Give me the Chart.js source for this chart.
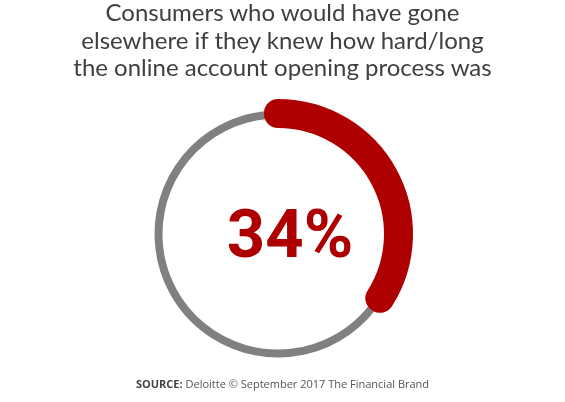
<!DOCTYPE html>
<html>
<head>
<meta charset="utf-8">
<script src="https://cdn.jsdelivr.net/npm/chart.js@4"></script>
<style>
  html, body { margin: 0; padding: 0; background: #fff; }
  #wrap { position: relative; width: 565px; height: 402px; overflow: hidden; }
  #title {
    position: absolute; left: 0; top: -2px; width: 565px;
    text-align: center; font-family: "Lato", sans-serif; font-size: 24px;
    line-height: 27.5px; color: #3f3f3f;
  }
  #source {
    position: absolute; left: 0; top: 376px; width: 565px;
    text-align: center; font-family: "Open Sans", sans-serif; font-size: 11px;
    color: #555;
  }
  #source b { color: #444; }
  canvas { position: absolute; left: 0; top: 0; }
</style>
</head>
<body>
<div id="wrap">
  <canvas id="myChart" width="565" height="402"></canvas>
  <div id="title">Consumers who would have gone<br>elsewhere if they knew how hard/long<br>the online account opening process was</div>
  <div id="source"><b>SOURCE:</b> Deloitte © September 2017 The Financial Brand</div>
</div>
<script>

const labels = ["Would have gone elsewhere", "Other"];
const share = [34, 66];

const red = "#ae0000";
const grey = "#808080";

// text in the middle of the ring, taken from the first value
const centerText = {
  id: "centerText",
  afterDatasetsDraw(chart) {
    const arc = chart.getDatasetMeta(0).data[0];
    const ctx = chart.ctx;
    ctx.save();
    ctx.fillStyle = red;
    ctx.font = "bold 67px Roboto";
    ctx.textAlign = "center";
    ctx.textBaseline = "alphabetic";
    ctx.fillText(share[0] + "%", arc.x + 12, arc.y + 23);
    ctx.restore();
  }
};

const ctx = document.getElementById("myChart");

new Chart(ctx, {
  type: "doughnut",
  data: {
    labels: labels,
    datasets: [{
      // red arc, on top
      data: share,
      backgroundColor: [red, "rgba(0,0,0,0)"],
      borderColor: [red, "rgba(0,0,0,0)"],
      borderWidth: [28, 0],
      borderJoinStyle: "round",
      order: 0
    }, {
      // grey track
      data: share,
      backgroundColor: [grey, grey],
      borderColor: [grey, grey],
      borderWidth: 7,
      order: 1
    }]
  },
  options: {
    responsive: false,
    animation: false,
    events: [],
    radius: 121,
    cutout: "98.35%",
    layout: {
      padding: { left: 138, right: 147, top: 94, bottom: 28 }
    },
    plugins: {
      legend: { display: false },
      tooltip: { enabled: false }
    }
  },
  plugins: [centerText]
});

</script>
</body>
</html>
